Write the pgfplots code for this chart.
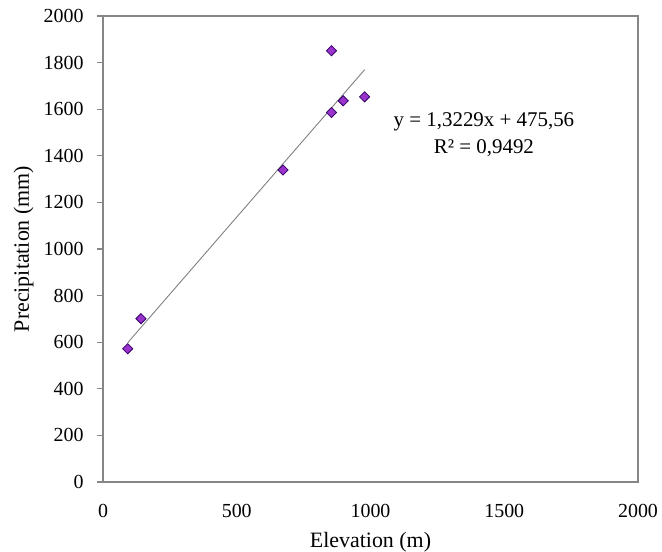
\documentclass[border=0pt]{standalone}
\usepackage{pgfplots}
\pgfplotsset{compat=1.18}
\usepackage{fontspec}
\setmainfont{Liberation Serif}
\definecolor{mk}{RGB}{153,51,204}
\definecolor{mkedge}{RGB}{51,0,102}
\definecolor{fr}{RGB}{134,134,134}
\definecolor{trend}{RGB}{128,128,128}
\begin{document}
\begin{tikzpicture}
\begin{axis}[
  scale only axis, width=535bp, height=466bp,
  xmin=0, xmax=2000, ymin=0, ymax=2000,
  xtick={0,500,...,2000}, ytick={0,200,...,2000},
  axis line style={fr, line width=1.3bp},
  tick align=outside, xtick pos=bottom, ytick pos=left,
  major tick length=6bp,
  xtick style={draw=none},
  ytick style={fr, line width=1.2bp},
  /pgf/number format/1000 sep={},
  /pgf/number format/assume math mode=true,
  tick label style={font=\fontsize{20}{24}\selectfont, text=black},
  xticklabel style={yshift=-13bp},
  yticklabel style={xshift=-10bp},
  xlabel={Elevation (m)}, ylabel={Precipitation (mm)},
  every axis x label/.style={at={(axis description cs:0.5,0)}, anchor=base, yshift=-65bp, font=\fontsize{22}{26}\selectfont},
  every axis y label/.style={at={(axis description cs:0,0.5)}, xshift=-74bp, rotate=90, anchor=base, font=\fontsize{22}{26}\selectfont},
  clip=false,
]
\addplot[trend, line width=0.9bp, no marks] coordinates {(92.5,597.9) (978,1769.4)};
\addplot[only marks, mark=square*, mark size=3.6bp, mark options={fill=mk, draw=mkedge, line width=0.8bp, rotate=45}]
  coordinates {(92.5,572) (142,701) (673,1339) (854,1851) (854,1586) (898,1636) (978,1653)};
\node[align=center, font=\fontsize{21}{27}\selectfont, inner sep=0pt] at (axis cs:1424,1492) {y = 1,3229x + 475,56\\R² = 0,9492};
\end{axis}
\pgfresetboundingbox
\path[use as bounding box] ([shift={(-103bp,-70bp)}]current axis.south west) rectangle ([shift={(24bp,16bp)}]current axis.north east);
\end{tikzpicture}
\end{document}
